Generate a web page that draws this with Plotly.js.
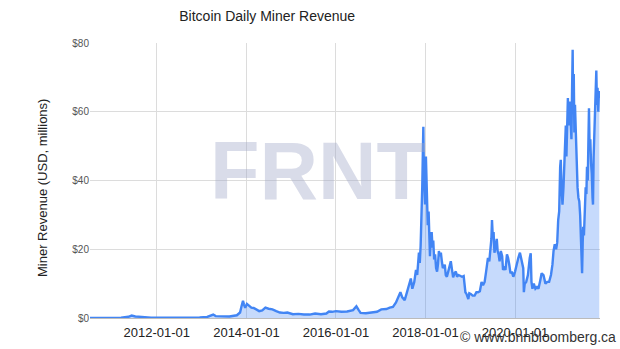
<!DOCTYPE html>
<html><head><meta charset="utf-8">
<script src="https://cdn.plot.ly/plotly-3.0.1.min.js"></script>
<style>html,body{margin:0;padding:0;background:#fff}#chart{width:620px;height:349px}</style>
</head><body><div id="chart"></div>
<script>
const dates = ['2010-07-05','2010-10-01','2011-01-01','2011-03-15','2011-05-15','2011-06-10','2011-07-10','2011-09-01','2011-11-15','2012-02-01','2012-05-01','2012-08-15','2012-11-15','2012-12-15','2013-02-15','2013-04-05','2013-04-25','2013-06-15','2013-08-15','2013-10-15','2013-11-10','2013-11-22','2013-12-04','2013-12-12','2013-12-22','2014-01-05','2014-01-20','2014-02-10','2014-03-01','2014-03-25','2014-04-15','2014-05-10','2014-06-05','2014-07-01','2014-08-01','2014-09-01','2014-10-01','2014-11-01','2014-12-01','2015-01-15','2015-03-01','2015-04-15','2015-06-01','2015-07-15','2015-09-01','2015-10-15','2015-11-05','2015-12-01','2016-01-01','2016-02-15','2016-04-01','2016-05-20','2016-06-16','2016-07-05','2016-07-20','2016-09-01','2016-10-15','2016-12-01','2017-01-05','2017-02-15','2017-03-15','2017-04-10','2017-05-05','2017-05-25','2017-06-10','2017-06-25','2017-07-15','2017-08-05','2017-08-20','2017-09-03','2017-09-15','2017-10-01','2017-10-15','2017-10-25','2017-11-08','2017-11-15','2017-11-22','2017-11-29','2017-12-05','2017-12-10','2017-12-14','2017-12-18','2017-12-22','2017-12-28','2018-01-04','2018-01-09','2018-01-14','2018-01-19','2018-01-26','2018-02-02','2018-02-06','2018-02-12','2018-02-20','2018-02-27','2018-03-05','2018-03-12','2018-03-20','2018-03-28','2018-04-05','2018-04-12','2018-04-20','2018-04-28','2018-05-06','2018-05-14','2018-05-22','2018-05-30','2018-06-07','2018-06-15','2018-06-24','2018-07-05','2018-07-18','2018-07-26','2018-08-05','2018-08-14','2018-08-25','2018-09-05','2018-09-15','2018-09-25','2018-10-10','2018-10-25','2018-11-08','2018-11-16','2018-11-22','2018-12-01','2018-12-10','2018-12-16','2018-12-24','2019-01-05','2019-01-20','2019-02-05','2019-02-20','2019-03-05','2019-03-20','2019-04-03','2019-04-15','2019-04-28','2019-05-10','2019-05-15','2019-05-25','2019-06-05','2019-06-15','2019-06-22','2019-06-27','2019-07-03','2019-07-10','2019-07-17','2019-07-25','2019-08-05','2019-08-12','2019-08-20','2019-08-28','2019-09-07','2019-09-18','2019-09-25','2019-10-05','2019-10-15','2019-10-27','2019-11-05','2019-11-15','2019-11-25','2019-12-05','2019-12-18','2020-01-01','2020-01-15','2020-01-28','2020-02-10','2020-02-20','2020-03-01','2020-03-08','2020-03-13','2020-03-20','2020-04-01','2020-04-15','2020-04-30','2020-05-08','2020-05-14','2020-05-22','2020-06-02','2020-06-15','2020-06-28','2020-07-10','2020-07-25','2020-08-05','2020-08-20','2020-09-05','2020-09-20','2020-10-05','2020-10-20','2020-11-01','2020-11-10','2020-11-20','2020-12-01','2020-12-10','2020-12-18','2020-12-26','2021-01-03','2021-01-08','2021-01-14','2021-01-22','2021-01-30','2021-02-06','2021-02-12','2021-02-18','2021-02-23','2021-03-01','2021-03-07','2021-03-12','2021-03-18','2021-03-25','2021-03-30','2021-04-05','2021-04-10','2021-04-15','2021-04-19','2021-04-24','2021-04-29','2021-05-04','2021-05-10','2021-05-15','2021-05-19','2021-05-25','2021-06-01','2021-06-08','2021-06-15','2021-06-21','2021-06-26','2021-07-01','2021-07-06','2021-07-10','2021-07-16','2021-07-24','2021-07-30','2021-08-05','2021-08-10','2021-08-16','2021-08-22','2021-08-26','2021-08-31','2021-09-06','2021-09-12','2021-09-18','2021-09-24','2021-09-28','2021-10-03','2021-10-09','2021-10-15','2021-10-20','2021-10-25','2021-10-30','2021-11-04','2021-11-10','2021-11-15','2021-11-18'];
const revenue = [0.02,0.03,0.06,0.12,0.35,0.7,0.45,0.25,0.1,0.12,0.1,0.2,0.25,0.15,0.3,1.0,0.55,0.5,0.45,0.8,1.6,3.4,5.0,3.9,3.0,4.1,3.6,3.0,2.9,2.4,2.0,2.2,3.0,2.7,2.5,2.0,1.6,1.5,1.6,1.1,1.2,1.0,1.0,1.3,1.1,1.3,1.9,1.8,2.0,1.8,1.9,2.3,3.4,2.3,1.5,1.4,1.5,1.8,2.5,2.6,3.0,3.2,4.5,6.5,7.5,6.0,5.2,7.8,10.0,11.5,8.5,10.5,14.0,12.5,19.0,16.0,21.0,28.0,38.0,48.0,55.6,44.0,36.0,33.0,47.0,40.0,34.0,27.0,31.0,22.0,18.0,23.0,25.0,20.5,22.5,17.0,18.5,14.5,13.5,15.5,19.5,18.0,19.0,16.5,14.5,15.0,15.5,12.5,12.0,13.5,15.0,16.5,14.0,11.8,13.0,13.5,12.0,12.5,12.3,12.0,12.2,9.5,7.5,7.0,6.0,5.5,7.2,7.0,6.5,6.5,7.5,7.5,7.8,10.5,9.5,10.5,13.5,15.5,17.5,16.5,19.5,23.0,28.5,24.0,25.0,19.0,20.5,23.0,19.5,18.5,16.5,19.5,18.0,14.0,14.5,14.0,18.5,17.5,15.5,13.0,13.5,12.0,13.5,16.0,17.5,19.0,17.5,16.0,14.5,7.5,10.0,10.5,12.5,17.5,18.8,10.5,8.5,10.0,8.5,9.0,8.5,11.0,13.0,12.5,10.0,10.5,10.5,12.5,15.5,19.5,21.5,20.0,22.0,28.5,31.0,44.0,46.0,38.0,33.0,38.0,45.0,49.0,56.0,47.0,59.0,64.0,56.0,62.0,63.0,57.0,52.0,66.0,78.0,60.0,71.0,54.0,62.0,55.0,46.0,40.0,38.0,35.0,34.0,30.0,24.0,19.0,13.0,22.0,26.5,24.0,32.0,38.0,36.0,44.0,40.0,52.0,61.0,50.0,52.0,45.0,42.0,35.0,33.0,47.0,55.0,60.0,66.0,72.0,62.0,67.0,60.0,66.0,64.0];
const xTickDates = ['2012-01-01','2014-01-01','2016-01-01','2018-01-01','2020-01-01'];
const xTickLabels = ['2012-01-01','2014-01-01','2016-01-01','2018-01-01','2020-01-01'];
const yTickValues = [0,20,40,60,80];
const yTickLabels = ['$0','$20','$40','$60','$80'];
const FONT = 'Liberation Sans, Arial, sans-serif';

const trace = {
  x: dates, y: revenue, type: 'scatter', mode: 'lines',
  fill: 'tozeroy', fillcolor: 'rgba(66,133,244,0.3)',
  line: {color: '#4285f4', width: 2.4}, hoverinfo: 'skip'
};
const layout = {
  width: 620, height: 349,
  margin: {l: 90, r: 20, t: 43, b: 31},
  paper_bgcolor: '#fff', plot_bgcolor: '#fff',
  showlegend: false,
  font: {family: FONT, color: '#222'},
  title: {text: 'Bitcoin Daily Miner Revenue', font: {family: FONT, size: 14, color: '#222'},
          x: 0.431, xanchor: 'center', y: 0.954, yanchor: 'middle', xref: 'container', yref: 'container'},
  xaxis: {type: 'date', range: ['2010-07-05', '2021-11-24'], tickvals: xTickDates, ticktext: xTickLabels,
          showgrid: true, gridcolor: '#dcdcdc', gridwidth: 1, zeroline: false, showline: false, ticks: '',
          ticklabelstandoff: 5,
          tickfont: {family: FONT, size: 13, color: '#222'}, fixedrange: true},
  yaxis: {range: [0, 80], tickvals: yTickValues, ticktext: yTickLabels,
          showgrid: true, gridcolor: '#dcdcdc', gridwidth: 1, zeroline: true, zerolinecolor: '#bbb', showline: false, ticks: '',
          tickfont: {family: FONT, size: 10, color: '#555'}, fixedrange: true},
  annotations: [
    {text: '<b>FRNT</b>', xref: 'paper', yref: 'paper', x: 0.447, y: 0.535, xanchor: 'center', yanchor: 'middle',
     showarrow: false, font: {family: FONT, size: 81, color: 'rgba(160,168,200,0.4)'}},
    {text: 'Miner Revenue (USD, millions)', xref: 'paper', yref: 'paper', x: -0.092, y: 0.473, textangle: -90,
     xanchor: 'center', yanchor: 'middle', showarrow: false, font: {family: FONT, size: 13, color: '#222'}},
    {text: '© www.bnnbloomberg.ca', xref: 'paper', yref: 'paper', x: 1.035, y: -0.069, xanchor: 'right', yanchor: 'middle',
     showarrow: false, font: {family: FONT, size: 14, color: '#333'}}
  ]
};
Plotly.newPlot('chart', [trace], layout, {displayModeBar: false, staticPlot: true});
</script></body></html>
